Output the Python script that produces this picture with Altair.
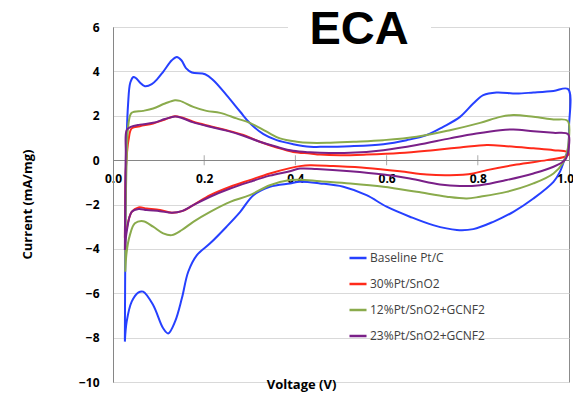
import altair as alt
import pandas as pd

SERIES = ["Baseline Pt/C", "30%Pt/SnO2", "12%Pt/SnO2+GCNF2", "23%Pt/SnO2+GCNF2"]
COLORS = ["#2640ff", "#ff2a1a", "#8aab4c", "#7a2088"]

BLUE_V = [0.026, 0.027, 0.028, 0.030, 0.033, 0.038, 0.045, 0.050, 0.059, 0.070, 0.085, 0.097, 0.110, 0.129, 0.140, 0.150, 0.160, 0.173, 0.202, 0.220, 0.249, 0.279, 0.300, 0.330, 0.359, 0.395, 0.432, 0.454, 0.520, 0.593, 0.644, 0.688, 0.724, 0.761, 0.790, 0.812, 0.841, 0.885, 0.922, 0.966, 0.998,
          1.000, 0.998, 0.991, 0.980, 0.966, 0.922, 0.878, 0.834, 0.790, 0.754, 0.702, 0.651, 0.600, 0.556, 0.505, 0.454, 0.410, 0.388, 0.344, 0.308, 0.279, 0.249, 0.213, 0.184, 0.165, 0.151, 0.136, 0.121, 0.110, 0.088, 0.066, 0.056, 0.041, 0.030, 0.026]
BLUE_I = [-8.1, -4.0, -1.0, 1.0, 2.5, 3.5, 3.75, 3.7, 3.5, 3.33, 3.42, 3.65, 3.98, 4.5, 4.65, 4.5, 4.15, 3.95, 3.87, 3.6, 2.93, 2.18, 1.67, 1.17, 0.9, 0.72, 0.6, 0.6, 0.63, 0.72, 0.9, 1.13, 1.5, 1.95, 2.55, 2.93, 3.05, 3.0, 3.05, 3.12, 3.2,
          1.5, 0.5, 0.08, -0.53, -0.98, -1.73, -2.33, -2.78, -3.11, -3.15, -2.93, -2.55, -2.1, -1.58, -1.2, -1.05, -0.98, -1.05, -1.2, -1.58, -2.33, -3.0, -3.75, -4.28, -5.03, -6.23, -7.28, -7.81, -7.58, -6.53, -5.93, -5.96, -6.38, -7.28, -8.18]

RED_V = [0.026, 0.027, 0.028, 0.031, 0.034, 0.041, 0.059, 0.088, 0.114, 0.136, 0.151, 0.176, 0.213, 0.249, 0.286, 0.322, 0.359, 0.395, 0.432, 0.454, 0.498, 0.556, 0.629, 0.702, 0.761, 0.820, 0.863, 0.922, 0.966, 0.995,
         0.999, 0.991, 0.951, 0.885, 0.820, 0.790, 0.739, 0.688, 0.629, 0.556, 0.483, 0.432, 0.410, 0.388, 0.344, 0.300, 0.257, 0.213, 0.176, 0.151, 0.129, 0.103, 0.074, 0.056, 0.041, 0.030, 0.026]
RED_I = [-3.5, -1.5, -0.45, 0.4, 0.9, 1.43, 1.53, 1.65, 1.83, 1.98, 1.92, 1.73, 1.53, 1.35, 1.13, 0.83, 0.57, 0.37, 0.3, 0.25, 0.22, 0.25, 0.32, 0.45, 0.57, 0.68, 0.63, 0.53, 0.45, 0.37,
         0.25, 0.15, 0.0, -0.2, -0.45, -0.6, -0.68, -0.65, -0.5, -0.35, -0.27, -0.23, -0.27, -0.36, -0.6, -0.9, -1.2, -1.58, -2.03, -2.3, -2.37, -2.25, -2.18, -2.13, -2.33, -3.08, -3.5]

GREEN_V = [0.027, 0.028, 0.030, 0.034, 0.041, 0.066, 0.088, 0.114, 0.136, 0.147, 0.176, 0.205, 0.235, 0.271, 0.300, 0.337, 0.366, 0.403, 0.432, 0.469, 0.527, 0.593, 0.666, 0.739, 0.805, 0.849, 0.878, 0.922, 0.966, 0.997,
           0.999, 0.995, 0.988, 0.966, 0.922, 0.863, 0.805, 0.776, 0.732, 0.666, 0.593, 0.520, 0.454, 0.410, 0.388, 0.344, 0.300, 0.257, 0.213, 0.176, 0.151, 0.129, 0.110, 0.088, 0.066, 0.048, 0.037, 0.030, 0.027]
GREEN_I = [-5.0, -2.0, 0.0, 1.65, 2.13, 2.22, 2.33, 2.55, 2.7, 2.67, 2.4, 2.22, 2.13, 1.88, 1.68, 1.28, 0.98, 0.83, 0.78, 0.78, 0.83, 0.9, 1.05, 1.35, 1.68, 1.95, 2.03, 1.95, 1.83, 1.77,
           0.8, 0.3, -0.08, -0.6, -1.05, -1.43, -1.65, -1.73, -1.65, -1.43, -1.2, -1.05, -0.95, -0.88, -0.9, -1.13, -1.58, -1.88, -2.33, -2.78, -3.15, -3.38, -3.3, -3.0, -2.75, -2.85, -3.38, -4.13, -5.03]

PURPLE_V = [0.026, 0.027, 0.028, 0.030, 0.039, 0.059, 0.088, 0.114, 0.136, 0.151, 0.176, 0.213, 0.249, 0.286, 0.322, 0.359, 0.395, 0.432, 0.454, 0.520, 0.593, 0.666, 0.739, 0.797, 0.849, 0.878, 0.922, 0.966, 0.998,
            0.999, 0.995, 0.991, 0.966, 0.922, 0.863, 0.805, 0.761, 0.717, 0.651, 0.593, 0.520, 0.447, 0.410, 0.388, 0.344, 0.300, 0.257, 0.213, 0.176, 0.151, 0.129, 0.103, 0.074, 0.056, 0.041, 0.030, 0.026]
PURPLE_I = [-4.05, -1.5, 0.3, 1.35, 1.5, 1.6, 1.68, 1.85, 1.97, 1.9, 1.7, 1.5, 1.33, 1.1, 0.83, 0.6, 0.42, 0.35, 0.33, 0.33, 0.45, 0.68, 0.98, 1.2, 1.35, 1.38, 1.3, 1.23, 1.17,
            0.5, 0.15, 0.0, -0.3, -0.6, -0.9, -1.13, -1.17, -1.1, -0.83, -0.65, -0.5, -0.4, -0.38, -0.5, -0.7, -0.98, -1.28, -1.65, -2.03, -2.3, -2.37, -2.3, -2.25, -2.2, -2.33, -3.23, -4.05]

X_TICKS = [0.2, 0.4, 0.6, 0.8]

rows = []
for name, vs, cs in zip(SERIES, [BLUE_V, RED_V, GREEN_V, PURPLE_V], [BLUE_I, RED_I, GREEN_I, PURPLE_I]):
    for k, (v, c) in enumerate(zip(vs, cs)):
        rows.append({"series": name, "idx": k, "V": v, "I": c})
df = pd.DataFrame(rows)

FONT = "Open Sans"
W, H = 456, 355

xscale = alt.Scale(domain=[0, 1], nice=False, zero=False)
yscale = alt.Scale(domain=[-10, 6], nice=False, zero=False)

lines = alt.Chart(df).mark_line(strokeWidth=2, interpolate="catmull-rom", clip=False).encode(
    x=alt.X("V:Q", scale=xscale, title="Voltage (V)",
            axis=alt.Axis(values=[0, 0.2, 0.4, 0.6, 0.8, 1.0], format=".1f", orient="bottom", offset=-222,
                          grid=False, tickSize=0, labelPadding=13, labelFont=FONT, labelFontSize=12,
                          labelFontWeight="bold", labelColor="#000000", domainColor="#868686",
                          labelFlush=False, labelOverlap=False,
                          labelOffset={"expr": "datum.value >= 1 ? -4 : 0"},
                          titleFont=FONT, titleFontSize=13, titleFontWeight="bold", titleColor="#000000",
                          titleX=188, titleY=228, titleBaseline="alphabetic", titleAlign="center")),
    y=alt.Y("I:Q", scale=yscale, title="Current (mA/mg)",
            axis=alt.Axis(values=list(range(-10, 7, 2)), grid=True, gridColor="#d9d9d9", tickSize=0,
                          labelPadding=14, labelFont=FONT, labelFontSize=12, labelFontWeight="bold",
                          labelColor="#000000", domainColor="#868686",
                          titleFont=FONT, titleFontSize=13, titleFontWeight="bold", titleColor="#000000",
                          titleAngle=270, titleX=-86, titleY=177, titleBaseline="middle", titleAlign="center")),
    color=alt.Color("series:N", scale=alt.Scale(domain=SERIES, range=COLORS), sort=SERIES,
                    legend=alt.Legend(title=None, orient="none", legendX=235, legendY=221, padding=0,
                                      symbolType="stroke", symbolSize=290, symbolStrokeWidth=2.5,
                                      rowPadding=10, labelOffset=2, labelFont=FONT, labelFontSize=12,
                                      labelColor="#404040")),
    order="idx:Q",
    detail="series:N",
)

ticks_df = pd.DataFrame({"V": X_TICKS, "I": [0] * len(X_TICKS)})
ticks = alt.Chart(ticks_df).mark_tick(orient="vertical", size=10, thickness=1, color="#868686").encode(
    x=alt.X("V:Q", scale=xscale), y=alt.Y("I:Q", scale=yscale)
)

gap = alt.Chart(pd.DataFrame({"a": [0]})).mark_rect(color="white").encode(
    x=alt.value(175), x2=alt.value(318), y=alt.value(-3), y2=alt.value(3)
)
title = alt.Chart(pd.DataFrame({"t": ["ECA"]})).mark_text(
    font="Liberation Sans", fontSize=47, fontWeight="bold", color="#000000", baseline="alphabetic", align="center"
).encode(text="t:N", x=alt.value(246), y=alt.value(17))

chart = alt.layer(ticks, lines, gap, title).properties(
    width=W, height=H, autosize=alt.AutoSizeParams(type="none"),
    padding={"left": 105, "top": 19, "right": 4, "bottom": 10},
).configure_view(stroke="#8c8c8c", strokeWidth=1).configure_axis(domainWidth=1)

chart.save("out.html", embed_options={"renderer": "svg", "actions": False})
